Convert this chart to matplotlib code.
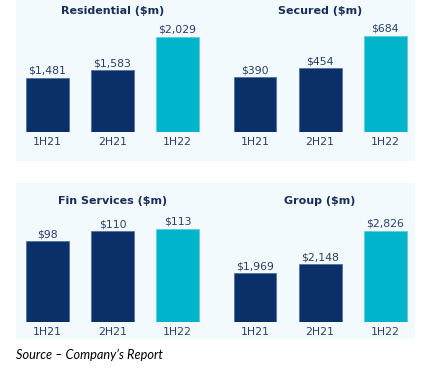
import matplotlib.pyplot as plt
from matplotlib.patches import Rectangle

periods = ['1H21', '2H21', '1H22']
titles = ['Residential ($m)', 'Secured ($m)', 'Fin Services ($m)', 'Group ($m)']
residential = [1481, 1583, 2029]
secured = [390, 454, 684]
fin_services = [98, 110, 113]
group = [1969, 2148, 2826]
labels = [['$1,481', '$1,583', '$2,029'],
          ['$390', '$454', '$684'],
          ['$98', '$110', '$113'],
          ['$1,969', '$2,148', '$2,826']]

NAVY = '#0b2f69'
CYAN = '#00b4cc'
PANEL = '#f3fafd'
TXT = '#2b3d6b'
TTL = '#1a2e5c'

W, H = 427, 370
fig = plt.figure(figsize=(W / 100, H / 100), dpi=100)
fig.patch.set_facecolor('white')

def px(x0, y0, x1, y1):
    # pixel box (top-left origin) -> figure fraction rect
    return [x0 / W, 1 - y1 / H, (x1 - x0) / W, (y1 - y0) / H]

# light panel backgrounds
for y0, y1 in [(0, 161), (183, 339)]:
    fig.patches.append(Rectangle((16 / W, 1 - y1 / H), (415 - 16) / W, (y1 - y0) / H,
                                 transform=fig.transFigure, facecolor=PANEL,
                                 edgecolor='none', zorder=-5))

# (axes box in px, xlim, ylim)
layout = [
    ((16, 0, 213, 132), (-0.485, 2.546), (759, 2524)),
    ((213, 0, 415, 132), (-0.646, 2.46), (0, 940)),
    ((16, 183, 213, 321.7), (-0.485, 2.546), (0, 169)),
    ((213, 183, 415, 321.7), (-0.646, 2.46), (988, 3798)),
]
series = [residential, secured, fin_services, group]

for i, (box, xl, yl) in enumerate(layout):
    ax = fig.add_axes(px(*box))
    ax.patch.set_alpha(0)
    ax.set_zorder(1)
    vals = series[i]
    base = yl[0]
    bars = ax.bar(range(3), [v - base for v in vals], bottom=base, width=0.66,
                  color=[NAVY, NAVY, CYAN], edgecolor=['#4a6a9c', '#4a6a9c', '#5cc9d9'],
                  linewidth=0.5)
    ax.bar_label(bars, labels=labels[i], padding=1.5, fontsize=7.8, color=TXT)
    ax.set_xlim(*xl)
    ax.set_ylim(*yl)
    ax.set_xticks(range(3))
    ax.set_xticklabels(periods, fontsize=7.8, color=TXT)
    ax.tick_params(axis='x', length=0, pad=3.5)
    ax.set_yticks([])
    for s in ax.spines.values():
        s.set_visible(False)
    ty = 10.5 if i < 2 else 200.5
    ax.text(1, 1 - (ty - box[1]) / (box[3] - box[1]), titles[i], transform=ax.get_xaxis_transform(),
            ha='center', va='center', fontsize=8, fontweight='bold', color=TTL)

fig.text(16 / W, 1 - 355 / H, 'Source \u2013 Company\u2019s Report', fontsize=9.2,
         style='italic', family='Lato', color='black', ha='left', va='center')

fig.savefig('out.png', dpi=100)
